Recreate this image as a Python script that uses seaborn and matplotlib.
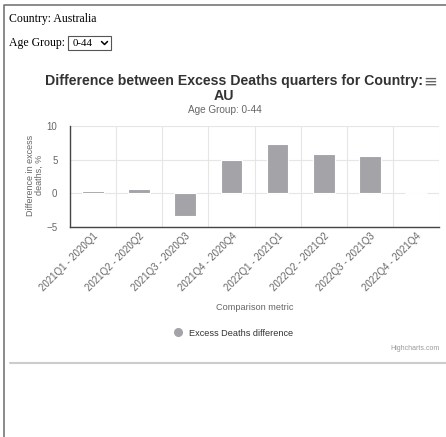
import numpy as np
import pandas as pd
import matplotlib
matplotlib.use("Agg")
import matplotlib.pyplot as plt
from matplotlib.lines import Line2D
from matplotlib.patches import Rectangle
import seaborn as sns

# === Data ===
COUNTRY = "Australia"
COUNTRY_CODE = "AU"
AGE_GROUP = "0-44"
comparisons = [
    "2021Q1 - 2020Q1", "2021Q2 - 2020Q2", "2021Q3 - 2020Q3", "2021Q4 - 2020Q4",
    "2022Q1 - 2021Q1", "2022Q2 - 2021Q2", "2022Q3 - 2021Q3", "2022Q4 - 2021Q4",
]
diff_values = [0.3, 0.7, -3.4, 5.0, 7.3, 5.9, 5.5, 0.1]
y_ticks = [-5, 0, 5, 10]

# === Layout (pixels) ===
W, H = 446, 437
BAR_COLOR = "#a4a4a8"
GRID = "#e6e6e6"


def fx(px):
    return px / W


def fy(py):
    return 1 - py / H


sns.set_style("white")
plt.rcParams['font.family'] = ['Liberation Sans', 'DejaVu Sans']

fig = plt.figure(figsize=(W / 100, H / 100), dpi=100)
ax = fig.add_axes([fx(70), fy(227), fx(439) - fx(70), fy(126) - fy(227)])

df = pd.DataFrame({"comparison": comparisons, "diff": diff_values})
sns.barplot(data=df, x="comparison", y="diff", color=BAR_COLOR, saturation=1,
            width=0.47, edgecolor="white", linewidth=0.8, ax=ax)

ax.set_xlim(-0.5, len(comparisons) - 0.5)
ax.set_ylim(-5, 10)
ax.set_yticks(y_ticks)
ax.set_xticks(np.arange(len(comparisons)) + 0.5, minor=True)
ax.set_axisbelow(True)
ax.grid(which="minor", axis="x", color=GRID, lw=0.8)
ax.grid(which="major", axis="y", color=GRID, lw=0.8)

for side in ["top", "right"]:
    ax.spines[side].set_visible(False)
ax.spines["left"].set_color("#444444")
ax.spines["left"].set_linewidth(1.0)
ax.spines["bottom"].set_color("#444444")
ax.spines["bottom"].set_linewidth(1.0)

ax.tick_params(axis="both", which="both", length=0, labelsize=7, colors="#666666")
ax.tick_params(axis="y", pad=9)
ax.tick_params(axis="x", pad=3)
plt.setp(ax.get_xticklabels(), rotation=45, ha="right", rotation_mode="anchor")

ax.set_ylabel("Difference in excess\ndeaths, %", fontsize=6.5, color="#666666",
              linespacing=1.05, va="center")
ax.yaxis.set_label_coords((35 - 70) / 369, (227 - 175) / 101)
ax.set_xlabel("Comparison metric", fontsize=6.6, color="#666666", va="center")
ax.xaxis.set_label_coords(0.5, (227 - 307) / 101)

# === Titles ===
fig.text(fx(234), fy(81), "Difference between Excess Deaths quarters for Country:",
         ha="center", va="center", fontsize=10.2, fontweight="bold", color="#333333")
fig.text(fx(224), fy(96), COUNTRY_CODE, ha="center", va="center",
         fontsize=10.2, fontweight="bold", color="#333333")
fig.text(fx(225), fy(110), f"Age Group: {AGE_GROUP}", ha="center", va="center",
         fontsize=7.2, color="#666666")
fig.text(fx(430), fy(82), "\u2261", ha="center", va="center", fontsize=12,
         color="#666666", family="DejaVu Sans")

# === Legend & credits ===
handle = Line2D([], [], marker="o", ls="", color=BAR_COLOR, markersize=5.5)
fig.legend(handles=[handle], labels=["Excess Deaths difference"], loc="center",
           bbox_to_anchor=(fx(231), fy(333)), frameon=False, fontsize=6.6,
           handletextpad=0.3, labelcolor="#333333")
fig.text(fx(440), fy(349), "Highcharts.com", ha="right", va="center",
         fontsize=5, color="#999999")

# === Page elements ===
fig.text(fx(9), fy(19), f"Country: {COUNTRY}", ha="left", va="center",
         fontsize=8.5, family="Liberation Serif", color="black")
fig.text(fx(9), fy(43), "Age Group:", ha="left", va="center",
         fontsize=8.5, family="Liberation Serif", color="black")
fig.patches.append(Rectangle((fx(68), fy(50)), fx(111) - fx(68), fy(36) - fy(50),
                             transform=fig.transFigure, fill=False,
                             edgecolor="#555555", lw=0.8))
fig.text(fx(72.5), fy(43.5), AGE_GROUP, ha="left", va="center",
         fontsize=7.8, family="Liberation Serif", color="black")
fig.add_artist(Line2D([fx(101.5), fx(104.5), fx(107.5)], [fy(41.5), fy(44.5), fy(41.5)],
                      transform=fig.transFigure, color="black", lw=1.1))

# page border and separator
fig.add_artist(Line2D([fx(3.5), fx(3.5), fx(446)],
                      [fy(437), fy(5), fy(5)],
                      transform=fig.transFigure, color="#777777", lw=1.2))
fig.add_artist(Line2D([fx(10), fx(446)], [fy(362.5), fy(362.5)],
                      transform=fig.transFigure, color="#cccccc", lw=1.5))

fig.savefig("out.png", dpi=100)
